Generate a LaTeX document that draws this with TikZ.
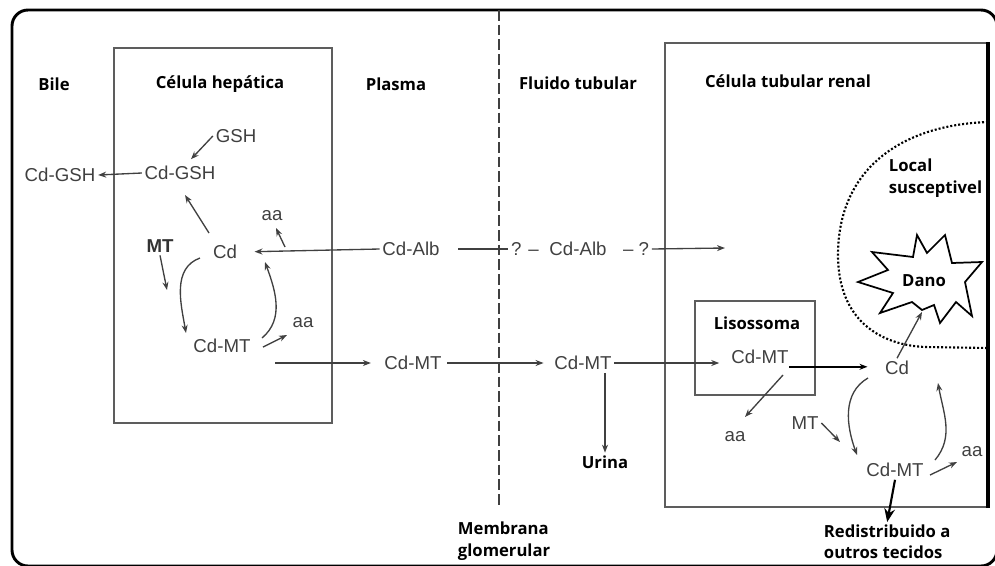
\documentclass[tikz,border=0pt]{standalone}
\usepackage{fontspec}
\setmainfont{Liberation Sans}
\newfontfamily\lblfont{Open Sans}
\usetikzlibrary{arrows.meta,calc}
\definecolor{ink}{HTML}{404040}
\begin{document}
\begin{tikzpicture}[
  x=0.75pt, y=-0.75pt,
  lbl/.style={font=\lblfont\bfseries\fontsize{12.5}{16}\selectfont, align=left, inner sep=2pt},
  mol/.style={font=\fontsize{14}{16}\selectfont, text=ink, inner sep=2pt},
  arrow/.style={-{Stealth[length=6pt,width=4.5pt]}, draw=ink, line width=1pt},
  bold arrow/.style={-{Stealth[length=10pt,width=8pt]}, draw=black, line width=1.6pt},
  cell/.style={draw=ink!85, line width=1.5pt}
]
\clip (0,0) rectangle (995,565);

% Frame and compartments
\draw[rounded corners=12pt, line width=2.2pt] (12,10) rectangle (997,566);
\draw[cell] (114,48) rectangle (332,423);
\draw[cell] (665,43) rectangle (988,507);
\draw[line width=2.4pt] (988,42) -- (988,508);
\draw[cell] (695,301) rectangle (815,395);
\draw[ink, line width=1.2pt, dash pattern=on 8pt off 3pt] (499,10) -- (499,508);

% Susceptible site and damage
\draw[line width=1.6pt, dash pattern=on 1.5pt off 1.5pt] (988,122) .. controls (900,125) and (838,170) .. (838,255)
  .. controls (838,320) and (880,345) .. (925,347) -- (988,348);
\draw[line width=1.3pt, fill=white] (858,282) -- (888,270) -- (872,252) -- (913,257) -- (917,235) -- (927,253)
  -- (945,235) -- (952,263) -- (982,262) -- (965,282) -- (972,316) -- (956,302) -- (940,323) -- (934,305)
  -- (922,310) -- (912,302) -- (880,313) -- (893,293) -- cycle;

% Compartment labels
\node[lbl] (bile) at (54,84) {Bile};
\node[lbl] (hepat) at (220,84) {Célula hepática};
\node[lbl] (plasma) at (396,84) {Plasma};
\node[lbl] (fluido) at (578,83) {Fluido tubular};
\node[lbl] (renal) at (788,81) {Célula tubular renal};
\node[lbl, anchor=west] (local) at (886,178) {Local\\susceptivel};
\node[lbl] (dano) at (924,281) {Dano};
\node[lbl] (liso) at (757,323) {Lisossoma};
\node[lbl] (urina) at (605,462) {Urina};
\node[lbl, anchor=west] (membr) at (455,541) {Membrana\\glomerular};
\node[lbl, anchor=west] (redist) at (821,542) {Redistribuido a\\outros tecidos};

% Liver cell
\node[mol] (gsh) at (236,136) {GSH};
\node[mol] (gshBile) at (60,175) {Cd-GSH};
\node[mol] (gshL) at (180,173) {Cd-GSH};
\node[mol] (cdL) at (225,252) {Cd};
\node[mol, font=\bfseries\fontsize{14}{16}\selectfont, text=black!80] (mtL) at (160,246) {MT};
\node[mol] (aaL1) at (272,216) {aa};
\node[mol] (mtcL) at (222,346) {Cd-MT};
\node[mol] (aaL2) at (303,323) {aa};

% Plasma and tubular fluid
\node[mol] (albP) at (411,249) {Cd-Alb};
\node[mol] (q1) at (525,249) {? –};
\node[mol] (albT) at (578,249) {Cd-Alb};
\node[mol] (q2) at (636,249) {– ?};
\node[mol] (mtP) at (413,363) {Cd-MT};
\node[mol] (mtT) at (583,363) {Cd-MT};

% Renal cell
\node[mol] (mtLys) at (760,357) {Cd-MT};
\node[mol] (aaLys) at (735,437) {aa};
\node[mol] (cdR) at (897,368) {Cd};
\node[mol] (mtR) at (805,423) {MT};
\node[mol] (mtcR) at (895,470) {Cd-MT};
\node[mol] (aaR) at (972,452) {aa};

\coordinate (br) at (285,247);
\coordinate (mtin) at (167,290);
\coordinate (albEnd) at (725,248);
\coordinate (mtin2) at (840,442);
\coordinate (danoin) at (922,312);

% Arrows, liver
\draw[arrow] (gsh.west) -- ($(gshL.north)+(11,-4)$);
\draw[arrow] (gshL.west) -- (gshBile.east);
\draw[arrow] ($(cdL)+(-16,-19)$) -- ($(gshL)+(5,22)$);
\draw[arrow, shorten >=11pt] (albP.west) -- (cdL.east);
\draw[arrow] (br) -- ($(aaL1)+(4,12)$);
\draw[arrow] (mtL.south) -- (mtin);
\draw[arrow] ($(cdL)+(-25,6)$) to[out=200, in=100] ($(mtcL)+(-36,-13)$);
\draw[arrow] ($(mtcL)+(40,-8)$) to[out=40, in=-70] ($(cdL)+(40,10)$);
\draw[arrow] ($(mtcL)+(41,1)$) -- ($(aaL2)+(-16,12)$);
\draw[arrow, shorten >=8pt] ($(mtcL)+(53,17)$) -- (mtP.west);

% Arrows, plasma to kidney
\draw[ink, line width=1pt, shorten <=12pt] (albP.east) -- (q1.west);
\draw[arrow] (q2.east) -- (albEnd);
\draw[arrow, shorten <=2pt, shorten >=6pt] (mtP.east) -- (mtT.west);
\draw[arrow, shorten >=7pt] (mtT.east) -- (mtT.east -| mtLys.west);
\draw[arrow] (mtT.south -| urina.north) -- (urina.north);

% Arrows, renal cell
\draw[arrow, draw=black, line width=1.4pt, shorten >=11pt] ($(mtLys.south east)+(-2,0)$) -- (mtLys.south east -| cdR.west);
\draw[arrow] ($(mtLys)+(23,18)$) -- ($(aaLys)+(10,-20)$);
\draw[arrow] (mtR.east) -- (mtin2);
\draw[arrow] ($(cdR)+(-29,10)$) to[out=210, in=110] ($(mtcR)+(-38,-15)$);
\draw[arrow] ($(mtcR)+(40,-10)$) to[out=50, in=-80] ($(cdR)+(41,15)$);
\draw[arrow] ($(mtcR)+(35,5)$) -- ($(aaR)+(-15,10)$);
\draw[arrow] (cdR.north) -- (danoin);
\draw[bold arrow] (mtcR.south) -- (redist.north);

\end{tikzpicture}
\end{document}
